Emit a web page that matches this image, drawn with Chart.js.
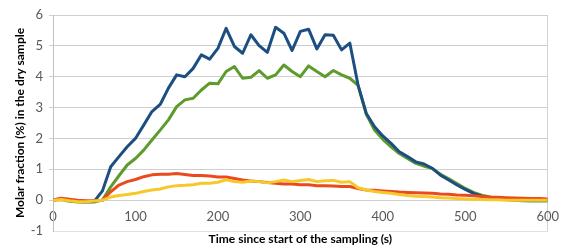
<!DOCTYPE html>
<html>
<head>
<meta charset="utf-8">
<script src="https://cdn.jsdelivr.net/npm/chart.js@4"></script>
<style>
  html, body { margin: 0; padding: 0; background: #fff; }
  #wrap { width: 565px; height: 249px; position: relative; }
</style>
</head>
<body>
<div id="wrap"><canvas id="graficoFracao"></canvas></div>
<script>
// =========================
// DADOS
// =========================

const tempos = [0, 10, 20, 30, 40, 50, 60, 70, 80, 90,
    100, 110, 120, 130, 140, 150, 160, 170, 180, 190,
    200, 210, 220, 230, 240, 250, 260, 270, 280, 290,
    300, 310, 320, 330, 340, 350, 360, 370, 380, 390,
    400, 410, 420, 430, 440, 450, 460, 470, 480, 490,
    500, 510, 520, 530, 540, 550, 560, 570, 580, 590, 600];

const serieAzul = [0, 0.05, 0, -0.04, -0.05, -0.04, 0.3, 1.08, 1.41, 1.73,
    2.0, 2.43, 2.87, 3.1, 3.63, 4.06, 4.0, 4.27, 4.71, 4.57,
    4.92, 5.57, 4.98, 4.76, 5.36, 5.01, 4.79, 5.6, 5.41, 4.85,
    5.47, 5.54, 4.9, 5.36, 5.34, 4.87, 5.09, 3.73, 2.81, 2.38,
    2.08, 1.84, 1.57, 1.41, 1.24, 1.17, 1.03, 0.81, 0.65, 0.49,
    0.35, 0.22, 0.13, 0.08, 0.04, 0.02, 0.01, 0, 0, 0, 0];

const serieVerde = [0, 0.02, -0.04, -0.06, -0.06, -0.06, 0, 0.43, 0.79, 1.14,
    1.35, 1.62, 1.95, 2.27, 2.6, 3.03, 3.25, 3.3, 3.57, 3.79,
    3.77, 4.17, 4.33, 3.95, 3.98, 4.2, 3.95, 4.06, 4.38, 4.17,
    4.0, 4.35, 4.17, 4.0, 4.2, 4.06, 3.95, 3.72, 2.78, 2.27,
    1.97, 1.73, 1.51, 1.35, 1.19, 1.1, 1.03, 0.84, 0.69, 0.54,
    0.38, 0.25, 0.16, 0.1, 0.05, 0.02, 0, -0.02, -0.03, -0.03, -0.03];

const serieVermelha = [0, 0.06, 0.03, 0, -0.02, -0.02, 0, 0.27, 0.49, 0.6,
    0.67, 0.76, 0.82, 0.84, 0.84, 0.86, 0.83, 0.8, 0.8, 0.78,
    0.75, 0.75, 0.7, 0.65, 0.62, 0.6, 0.57, 0.55, 0.52, 0.52,
    0.5, 0.5, 0.47, 0.47, 0.46, 0.44, 0.44, 0.38, 0.33, 0.32,
    0.3, 0.28, 0.26, 0.25, 0.24, 0.23, 0.22, 0.2, 0.19, 0.17,
    0.16, 0.14, 0.12, 0.1, 0.09, 0.08, 0.07, 0.06, 0.05, 0.05, 0.04];

const serieAmarela = [0, 0.02, -0.02, -0.05, -0.05, -0.03, 0, 0.1, 0.15, 0.18,
    0.22, 0.28, 0.33, 0.36, 0.43, 0.47, 0.48, 0.5, 0.55, 0.55,
    0.58, 0.66, 0.6, 0.58, 0.62, 0.6, 0.56, 0.6, 0.65, 0.6,
    0.64, 0.67, 0.6, 0.63, 0.64, 0.58, 0.6, 0.4, 0.33, 0.28,
    0.25, 0.22, 0.18, 0.15, 0.13, 0.12, 0.1, 0.08, 0.07, 0.05,
    0.04, 0.03, 0.02, 0.01, 0.01, 0, 0, 0, 0, 0, 0];

const tituloX = 'Time since start of the sampling (s)';
const tituloY = 'Molar fraction (%) in the dry sample';

// =========================
// GRÁFICO
// =========================

const pontos = (serie) => tempos.map((t, i) => ({ x: t, y: serie[i] }));

const linha = (serie, cor) => ({
    data: pontos(serie),
    borderColor: cor,
    backgroundColor: cor,
    borderWidth: 3,
    pointRadius: 0,
    tension: 0,
    borderJoinStyle: 'round'
});

const ctx = document.getElementById('graficoFracao').getContext('2d');

new Chart(ctx, {
    type: 'line',
    data: {
        datasets: [
            linha(serieAmarela, '#f7c82a'),
            linha(serieVermelha, '#ea4a1c'),
            linha(serieAzul, '#1d4e82'),
            linha(serieVerde, '#5d9c2c')
        ]
    },
    options: {
        responsive: true,
        maintainAspectRatio: false,
        animation: false,
        layout: {
            padding: { top: 15, right: 12, left: 13, bottom: 0 }
        },
        scales: {
            x: {
                type: 'linear',
                min: 0,
                max: 600,
                afterFit: (s) => { s.height = 18; },
                border: { display: true, color: '#e0e0e0', width: 1 },
                grid: {
                    drawTicks: false,
                    color: (c) => (c.tick && c.tick.value === 600) ? '#d4d4d4' : 'rgba(0,0,0,0)',
                    lineWidth: 1
                },
                ticks: {
                    stepSize: 100,
                    mirror: true,
                    padding: 6,
                    maxRotation: 0,
                    color: '#595959',
                    font: { family: 'Lato', size: 13 }
                },
                title: {
                    display: true,
                    text: tituloX,
                    color: '#000',
                    padding: { top: 0, bottom: 3 },
                    font: { family: 'Lato', size: 12, weight: 'bold' }
                }
            },
            y: {
                min: -1,
                max: 6,
                afterFit: (s) => { s.width = 40; },
                border: { display: true, color: '#bfbfbf', width: 1 },
                grid: {
                    color: (c) => c.tick && c.tick.value === -1 ? 'rgba(0,0,0,0)' : '#cfcfcf',
                    lineWidth: 1,
                    drawTicks: true,
                    tickLength: 4
                },
                ticks: {
                    stepSize: 1,
                    padding: 6,
                    color: '#595959',
                    font: { family: 'Lato', size: 13 }
                },
                title: {
                    display: true,
                    text: tituloY,
                    color: '#000',
                    padding: { top: 0, bottom: 4 },
                    font: { family: 'Lato', size: 12, weight: 'bold' }
                }
            }
        },
        plugins: {
            legend: { display: false },
            tooltip: { enabled: false }
        }
    }
});
</script>
</body>
</html>
